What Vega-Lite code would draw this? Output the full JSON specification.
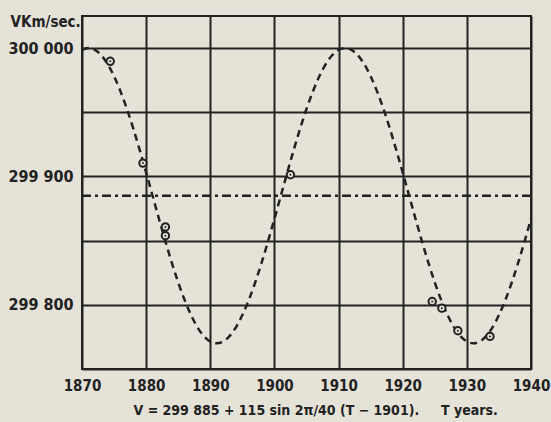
{
  "$schema": "https://vega.github.io/schema/vega-lite/v6.json",
  "autosize": "none",
  "width": 449,
  "height": 353,
  "padding": {"left": 82, "top": 16, "right": 20, "bottom": 53},
  "background": "#e5e2d8",
  "config": {
    "view": {"stroke": "#222222", "strokeWidth": 2},
    "font": "DejaVu Sans Condensed, sans-serif"
  },
  "datasets": {
    "curve": [
      {"year":1870,"v":299998.6},{"year":1871,"v":300000},{"year":1872,"v":299998.6},{"year":1873,"v":299994.4},
      {"year":1874,"v":299987.5},{"year":1875,"v":299978.0},{"year":1876,"v":299966.3},{"year":1877,"v":299952.6},
      {"year":1878,"v":299937.2},{"year":1879,"v":299920.5},{"year":1880,"v":299903.0},{"year":1881,"v":299885.0},
      {"year":1882,"v":299867.0},{"year":1883,"v":299849.5},{"year":1884,"v":299832.8},{"year":1885,"v":299817.4},
      {"year":1886,"v":299803.7},{"year":1887,"v":299792.0},{"year":1888,"v":299782.5},{"year":1889,"v":299775.6},
      {"year":1890,"v":299771.4},{"year":1891,"v":299770.0},{"year":1892,"v":299771.4},{"year":1893,"v":299775.6},
      {"year":1894,"v":299782.5},{"year":1895,"v":299792.0},{"year":1896,"v":299803.7},{"year":1897,"v":299817.4},
      {"year":1898,"v":299832.8},{"year":1899,"v":299849.5},{"year":1900,"v":299867.0},{"year":1901,"v":299885.0},
      {"year":1902,"v":299903.0},{"year":1903,"v":299920.5},{"year":1904,"v":299937.2},{"year":1905,"v":299952.6},
      {"year":1906,"v":299966.3},{"year":1907,"v":299978.0},{"year":1908,"v":299987.5},{"year":1909,"v":299994.4},
      {"year":1910,"v":299998.6},{"year":1911,"v":300000.0},{"year":1912,"v":299998.6},{"year":1913,"v":299994.4},
      {"year":1914,"v":299987.5},{"year":1915,"v":299978.0},{"year":1916,"v":299966.3},{"year":1917,"v":299952.6},
      {"year":1918,"v":299937.2},{"year":1919,"v":299920.5},{"year":1920,"v":299903.0},{"year":1921,"v":299885.0},
      {"year":1922,"v":299867.0},{"year":1923,"v":299849.5},{"year":1924,"v":299832.8},{"year":1925,"v":299817.4},
      {"year":1926,"v":299803.7},{"year":1927,"v":299792.0},{"year":1928,"v":299782.5},{"year":1929,"v":299775.6},
      {"year":1930,"v":299771.4},{"year":1931,"v":299770.0},{"year":1932,"v":299771.4},{"year":1933,"v":299775.6},
      {"year":1934,"v":299782.5},{"year":1935,"v":299792.0},{"year":1936,"v":299803.7},{"year":1937,"v":299817.4},
      {"year":1938,"v":299832.8},{"year":1939,"v":299849.5},{"year":1940,"v":299867.0}
    ],
    "obs": [
      {"year":1874.4,"v":299989.7},
      {"year":1879.5,"v":299910.4},
      {"year":1883.0,"v":299860.7},
      {"year":1883.0,"v":299853.9},
      {"year":1902.5,"v":299901.3},
      {"year":1924.6,"v":299802.6},
      {"year":1926.1,"v":299797.4},
      {"year":1928.6,"v":299779.8},
      {"year":1933.6,"v":299775.4}
    ],
    "mean": [{"v":299885}]
  },
  "layer": [
    {
      "data": {"name": "curve"},
      "mark": {"type": "line", "color": "#222222", "strokeWidth": 2.5, "strokeDash": [7, 5], "interpolate": "monotone"},
      "encoding": {
        "x": {
          "field": "year", "type": "quantitative",
          "scale": {"domain": [1870, 1940], "nice": false, "zero": false},
          "axis": {
            "values": [1870, 1880, 1890, 1900, 1910, 1920, 1930, 1940],
            "format": "d",
            "grid": true, "gridColor": "#222222", "gridWidth": 2, "gridOpacity": 1,
            "domain": false, "ticks": false,
            "labelFont": "DejaVu Sans Condensed, sans-serif", "labelFontWeight": "bold", "labelFontSize": 15,
            "labelColor": "#222222", "labelBaseline": "top", "labelPadding": 9, "labelFlush": false,
            "title": "V = 299\u00a0885 + 115 sin 2π/40 (T − 1901).\u00a0\u00a0\u00a0\u00a0\u00a0T years.",
            "titleFont": "DejaVu Sans Condensed, sans-serif", "titleFontWeight": "bold", "titleFontSize": 14,
            "titleColor": "#222222", "titleAlign": "left", "titleAnchor": "start",
            "titleX": 51, "titleY": 45, "titleBaseline": "alphabetic"
          }
        },
        "y": {
          "field": "v", "type": "quantitative",
          "scale": {"domain": [299750, 300025], "nice": false, "zero": false},
          "axis": {
            "values": [299750, 299800, 299850, 299900, 299950, 300000],
            "labelExpr": "datum.value % 100 == 0 ? replace(format(datum.value, ','), ',', '\u00a0') : ''",
            "grid": true, "gridColor": "#222222", "gridWidth": 2, "gridOpacity": 1,
            "domain": false, "ticks": false,
            "labelFont": "DejaVu Sans Condensed, sans-serif", "labelFontWeight": "bold", "labelFontSize": 16,
            "labelColor": "#222222", "labelPadding": 9, "labelBaseline": "middle",
            "title": "VKm/sec.",
            "titleFont": "DejaVu Sans Condensed, sans-serif", "titleFontWeight": "bold", "titleFontSize": 15,
            "titleColor": "#222222", "titleAngle": 0, "titleAlign": "left", "titleBaseline": "middle",
            "titleX": -72, "titleY": 5
          }
        }
      }
    },
    {
      "data": {"name": "mean"},
      "mark": {"type": "rule", "color": "#222222", "strokeWidth": 2.5, "strokeDash": [9, 4, 3, 4]},
      "encoding": {"y": {"field": "v", "type": "quantitative"}}
    },
    {
      "data": {"name": "obs"},
      "mark": {"type": "point", "shape": "circle", "size": 55, "filled": false, "color": "#222222", "strokeWidth": 2, "fill": "#e5e2d8", "fillOpacity": 1},
      "encoding": {
        "x": {"field": "year", "type": "quantitative"},
        "y": {"field": "v", "type": "quantitative"}
      }
    },
    {
      "data": {"name": "obs"},
      "mark": {"type": "point", "shape": "circle", "size": 4, "filled": true, "color": "#222222", "opacity": 1},
      "encoding": {
        "x": {"field": "year", "type": "quantitative"},
        "y": {"field": "v", "type": "quantitative"}
      }
    }
  ]
}
